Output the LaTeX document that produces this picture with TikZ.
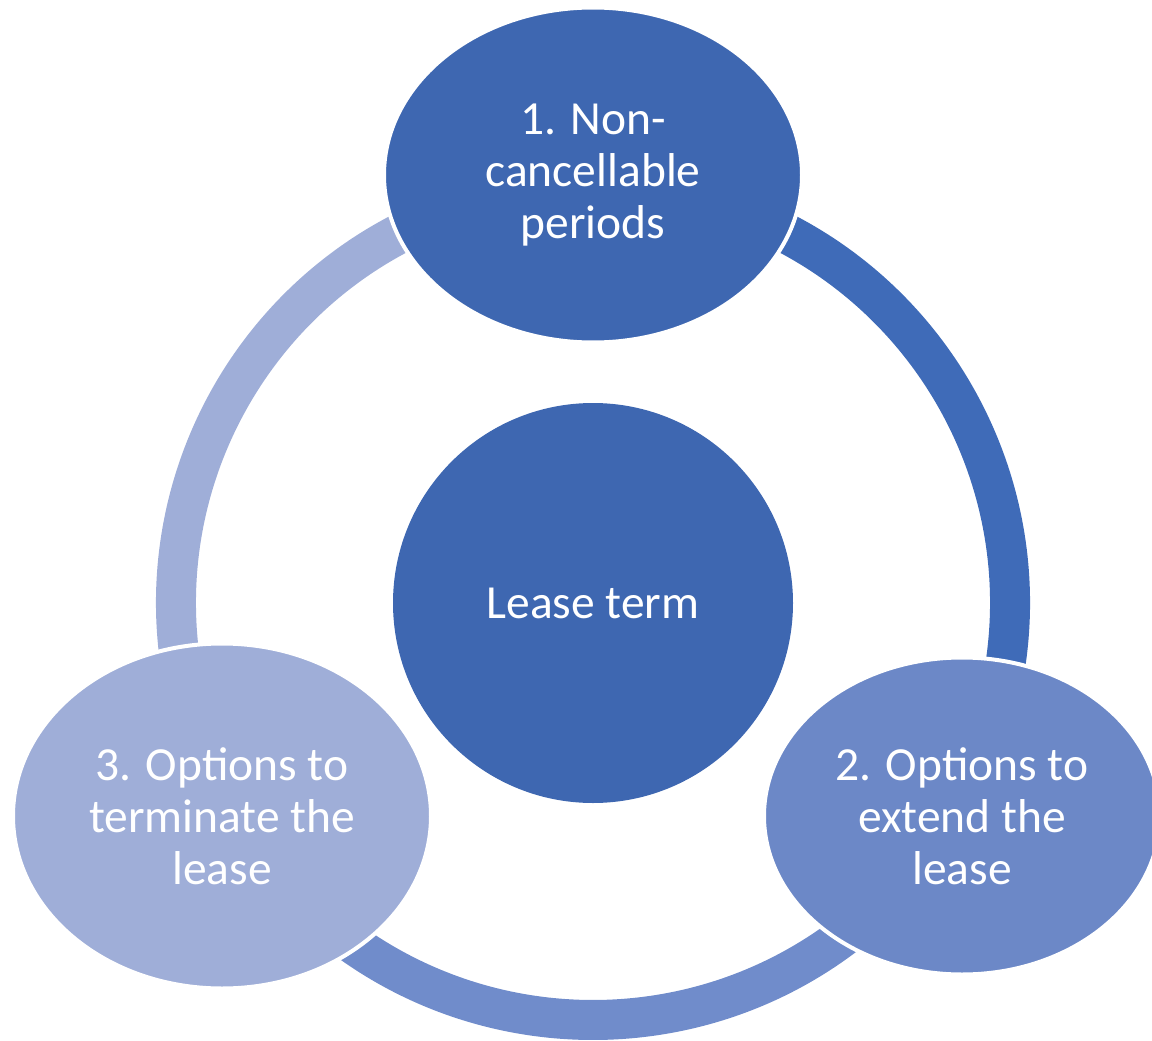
\documentclass[tikz,border=0pt]{standalone}
\usepackage{fontspec}
\setmainfont{Carlito}
\usetikzlibrary{shapes.geometric}

\definecolor{hubblue}{HTML}{3E67B1}
\definecolor{arcdark}{HTML}{3F6BB8}
\definecolor{midblue}{HTML}{6C88C7}
\definecolor{arcmid}{HTML}{708CCB}
\definecolor{lightblue}{HTML}{9FAED8}

\tikzset{
  stage/.style={ellipse, draw=white, line width=4pt, text=white, align=center,
    font=\fontsize{47.5pt}{52pt}\selectfont, inner sep=0pt},
  hub/.style={circle, fill=hubblue, minimum size=400pt, inner sep=0pt, text=white,
    font=\fontsize{47.5pt}{52pt}\selectfont},
  band/.style={line width=40pt}
}

\begin{document}
\begin{tikzpicture}[x=1pt,y=1pt]
  \useasboundingbox (0,0) rectangle (1152,-1041);

  % centre of the ring
  \coordinate (ring) at (593,-603);

  % ring segments (drawn first, the stages sit on top of their ends)
  \draw[band, arcdark]   ([shift={(72:417pt)}]ring)   arc (72:-10:417pt);
  \draw[band, arcmid]    ([shift={(-48:417pt)}]ring)  arc (-48:-132:417pt);
  \draw[band, lightblue] ([shift={(190:417pt)}]ring)  arc (190:110:417pt);

  % hub
  \node[hub] (hub) at (ring) {Lease term};

  % stages
  \node[stage, fill=hubblue, minimum width=418pt, minimum height=335pt]
    (s1) at (593,-175) {1. Non-\\cancellable\\periods};
  \node[stage, fill=midblue, minimum width=396pt, minimum height=317pt]
    (s2) at (962,-816) {2. Options to\\extend the\\lease};
  \node[stage, fill=lightblue, minimum width=418pt, minimum height=345pt]
    (s3) at (222,-816) {3. Options to\\terminate the\\lease};
\end{tikzpicture}
\end{document}
